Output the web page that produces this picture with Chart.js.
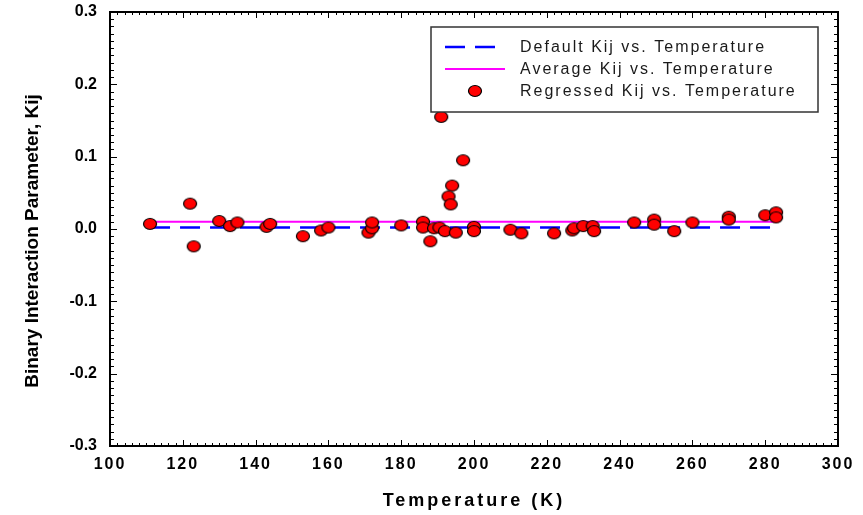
<!DOCTYPE html>
<html>
<head>
<meta charset="utf-8">
<script src="https://cdn.jsdelivr.net/npm/chart.js@4.4.0/dist/chart.umd.min.js"></script>
<style>
  body { margin: 0; background: #fff; }
  #wrap { width: 863px; height: 515px; }
</style>
</head>
<body>
<div id="wrap"><canvas id="kijChart" width="863" height="515"></canvas></div>
<script>
// Regressed Kij points
const temps = [111, 122, 123, 130, 133, 135, 143, 144, 153, 158, 160, 171, 172, 172, 180,
  186, 186, 188, 189, 190.5, 192, 195, 200, 200, 191, 197, 194, 193, 193.6,
  210, 213, 222, 227, 227.5, 230, 232.6, 233, 244, 249.5, 249.5, 255, 260, 270, 270, 280, 283, 283];
const kijValues = [0.007, 0.035, -0.024, 0.011, 0.004, 0.009, 0.003, 0.007, -0.010, -0.002, 0.002, -0.005, 0.001, 0.009, 0.005,
  0.010, 0.002, -0.017, 0.001, 0.002, -0.003, -0.005, 0.003, -0.003, 0.155, 0.095, 0.060, 0.045, 0.034,
  -0.001, -0.006, -0.006, -0.002, 0.001, 0.004, 0.004, -0.003, 0.009, 0.013, 0.006, -0.003, 0.009, 0.017, 0.013, 0.019, 0.023, 0.016];

// constant lines
const lineTemps = [111, 283];
const defaultKij = [0.002, 0.002];
const averageKij = [0.010, 0.010];

// axis ranges / ticks
const xTicks = [100, 120, 140, 160, 180, 200, 220, 240, 260, 280, 300];
const yTicks = [-0.3, -0.2, -0.1, 0.0, 0.1, 0.2, 0.3];
const xMinorStep = 2;
const yMinorStep = 0.01;

const seriesLabels = ['Default Kij vs. Temperature', 'Average Kij vs. Temperature', 'Regressed Kij vs. Temperature'];

function toPoints(xs, ys) {
  return xs.map(function (x, i) { return { x: x, y: ys[i] }; });
}

// red ellipse marker
const marker = document.createElement('canvas');
marker.width = 16; marker.height = 14;
(function () {
  const c = marker.getContext('2d');
  c.beginPath();
  c.ellipse(8, 7, 6.5, 5.5, 0, 0, Math.PI * 2);
  c.fillStyle = '#ff0000';
  c.fill();
  c.lineWidth = 1.2;
  c.strokeStyle = '#000';
  c.stroke();
})();

// frame + inward ticks on all four sides
const framePlugin = {
  id: 'frame',
  beforeDatasetsDraw(chart) {
    const ctx = chart.ctx, a = chart.chartArea;
    const xs = chart.scales.x, ys = chart.scales.y;
    ctx.save();
    ctx.strokeStyle = '#000';
    ctx.lineWidth = 1;
    ctx.beginPath();
    for (let v = xTicks[0]; v <= xTicks[xTicks.length - 1] + 1e-6; v += xMinorStep) {
      const px = Math.round(xs.getPixelForValue(v)) + 0.5;
      const major = xTicks.indexOf(Math.round(v)) >= 0;
      const len = major ? 6 : 3;
      ctx.moveTo(px, a.bottom); ctx.lineTo(px, a.bottom - len);
      ctx.moveTo(px, a.top); ctx.lineTo(px, a.top + len);
    }
    const n = Math.round((yTicks[yTicks.length - 1] - yTicks[0]) / yMinorStep);
    for (let i = 0; i <= n; i++) {
      const v = yTicks[0] + i * yMinorStep;
      const py = Math.round(ys.getPixelForValue(v)) + 0.5;
      const len = i % 10 === 0 ? 7 : 4;
      ctx.moveTo(a.left, py); ctx.lineTo(a.left + len, py);
      ctx.moveTo(a.right, py); ctx.lineTo(a.right - len, py);
    }
    ctx.stroke();
    ctx.lineWidth = 2;
    ctx.strokeRect(a.left, a.top, a.right - a.left, a.bottom - a.top);
    ctx.restore();
  }
};

// boxed legend in the upper right
const legendPlugin = {
  id: 'boxLegend',
  afterDatasetsDraw(chart) {
    const ctx = chart.ctx, a = chart.chartArea;
    const bx = a.left + 321, by = a.top + 15, bw = 387, bh = 85;
    ctx.save();
    ctx.fillStyle = '#fff';
    ctx.fillRect(bx, by, bw, bh);
    ctx.strokeStyle = '#333';
    ctx.lineWidth = 1.5;
    ctx.strokeRect(bx, by, bw, bh);

    const ds = chart.data.datasets;
    const rows = [by + 20, by + 42, by + 64];
    // dashed line
    ctx.strokeStyle = ds[0].borderColor;
    ctx.lineWidth = ds[0].borderWidth;
    ctx.setLineDash(ds[0].borderDash);
    ctx.beginPath(); ctx.moveTo(bx + 14, rows[0]); ctx.lineTo(bx + 66, rows[0]); ctx.stroke();
    ctx.setLineDash([]);
    ctx.strokeStyle = ds[1].borderColor;
    ctx.lineWidth = ds[1].borderWidth;
    ctx.beginPath(); ctx.moveTo(bx + 14, rows[1]); ctx.lineTo(bx + 74, rows[1]); ctx.stroke();
    ctx.drawImage(marker, bx + 44 - marker.width / 2, rows[2] - marker.height / 2);

    ctx.fillStyle = '#1a1a1a';
    ctx.font = '16px "Liberation Sans", Arial, sans-serif';
    ctx.letterSpacing = '2px';
    ctx.textBaseline = 'middle';
    ctx.textAlign = 'left';
    for (let i = 0; i < 3; i++) ctx.fillText(ds[i].label, bx + 89, rows[i] + 1);
    ctx.restore();
  }
};

// letter spacing on the x axis text, y title nudged down a little
const spacingPlugin = {
  id: 'axisText',
  afterLayout(chart) {
    const s = chart.scales.x, y = chart.scales.y;
    if (s._patched) return;
    s._patched = true;
    const drawLabels = s.drawLabels.bind(s);
    const drawTitle = s.drawTitle.bind(s);
    const drawYTitle = y.drawTitle.bind(y);
    s.drawLabels = function (area) {
      chart.ctx.save(); chart.ctx.letterSpacing = '2px'; drawLabels(area); chart.ctx.restore();
    };
    s.drawTitle = function () {
      chart.ctx.save(); chart.ctx.letterSpacing = '3px'; drawTitle(); chart.ctx.restore();
    };
    y.drawTitle = function () {
      chart.ctx.save(); chart.ctx.translate(0, 12); drawYTitle(); chart.ctx.restore();
    };
  }
};

const ctx = document.getElementById('kijChart').getContext('2d');

const myChart = new Chart(ctx, {
  type: 'scatter',
  data: {
    datasets: [
      {
        label: seriesLabels[0],
        data: toPoints(lineTemps, defaultKij),
        showLine: true,
        borderColor: '#0000ff',
        borderWidth: 2.5,
        borderDash: [20, 10],
        pointRadius: 0,
        order: 3
      },
      {
        label: seriesLabels[1],
        data: toPoints(lineTemps, averageKij),
        showLine: true,
        borderColor: '#ff00ff',
        borderWidth: 2,
        pointRadius: 0,
        order: 2
      },
      {
        label: seriesLabels[2],
        data: toPoints(temps, kijValues),
        pointStyle: marker,
        pointRadius: 6,
        order: 1
      }
    ]
  },
  options: {
    responsive: false,
    animation: false,
    layout: { padding: { left: 0, right: 25, top: 12, bottom: 0 } },
    plugins: {
      legend: { display: false },
      tooltip: { enabled: false }
    },
    scales: {
      x: {
        type: 'linear',
        min: xTicks[0],
        max: xTicks[xTicks.length - 1],
        afterFit: function (scale) { scale.height = 69; },
        afterBuildTicks: function (scale) { scale.ticks = xTicks.map(function (v) { return { value: v }; }); },
        grid: { display: false, drawTicks: true, tickLength: 9 },
        border: { display: false },
        ticks: {
          padding: 0,
          color: '#000',
          font: { family: '"Liberation Sans", Arial, sans-serif', size: 16, weight: 'bold' },
          callback: function (v) { return String(v); }
        },
        title: {
          display: true,
          text: 'Temperature (K)',
          color: '#000',
          padding: { top: 0, bottom: 3 },
          font: { family: '"Liberation Sans", Arial, sans-serif', size: 18, weight: 'bold' }
        }
      },
      y: {
        type: 'linear',
        min: yTicks[0],
        max: yTicks[yTicks.length - 1],
        afterFit: function (scale) { scale.width = 110; },
        afterBuildTicks: function (scale) { scale.ticks = yTicks.map(function (v) { return { value: v }; }); },
        grid: { display: false, drawTicks: true, tickLength: 13 },
        border: { display: false },
        ticks: {
          padding: 0,
          color: '#000',
          font: { family: '"Liberation Sans", Arial, sans-serif', size: 16, weight: 'bold' },
          callback: function (v) { return (Math.abs(v) < 1e-9 ? 0 : v).toFixed(1); }
        },
        title: {
          display: true,
          text: 'Binary Interaction Parameter, Kij',
          color: '#000',
          padding: { top: 21, bottom: 0 },
          font: { family: '"Liberation Sans", Arial, sans-serif', size: 19, weight: 'bold' }
        }
      }
    }
  },
  plugins: [framePlugin, legendPlugin, spacingPlugin]
});
</script>
</body>
</html>
